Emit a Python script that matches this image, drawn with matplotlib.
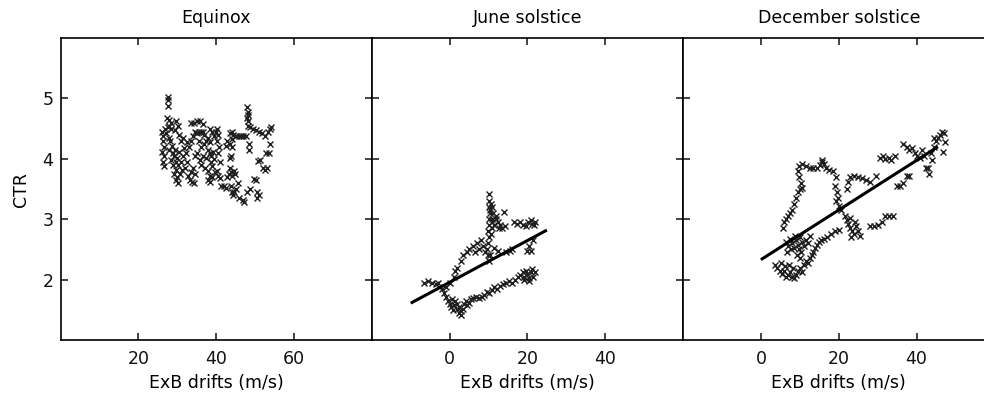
import matplotlib
matplotlib.use("Agg")
import matplotlib.pyplot as plt

plt.rcParams['font.family'] = ['DejaVu Sans']

# Equinox (ExB drift m/s, CTR)
eq_x = [26.2, 26.4, 26.3, 26.5, 26.2, 26.6, 26.3, 26.5, 26.8, 27.0,
        27.6, 27.7, 27.6, 27.3, 27.8, 28.3, 28.0, 27.5, 28.5,
        27.8, 28.2, 28.6, 28.0, 28.8, 29.2, 29.5, 28.5, 29.0, 29.6, 30.0, 30.2, 29.8, 29.2, 29.6, 30.3,
        30.0, 30.8, 31.2, 31.0, 31.5, 30.5, 31.8, 32.2, 32.5, 32.0, 32.8, 33.2, 33.8, 34.2, 33.5, 34.0, 34.5,
        29.5, 30.2, 29.8, 30.5, 31.0, 31.5, 32.5, 33.0, 33.5, 34.0, 34.5, 35.0, 35.5, 36.0, 36.5, 37.0,
        33.5, 34.2, 35.0, 35.8, 36.5,
        35.5, 36.0, 36.8, 37.5, 38.0, 38.5, 37.8, 38.3, 38.8, 39.2, 39.5, 38.7, 39.0, 37.5, 36.5, 35.8,
        35.0, 34.5, 36.2, 37.2, 38.0, 38.4, 37.8, 38.5, 39.0, 39.6, 40.2, 40.5, 41.0,
        40.2, 40.5, 40.3, 40.8, 40.5, 41.0, 40.0, 39.5, 39.0, 38.5,
        41.2, 42.0, 42.5, 42.8, 43.2, 43.5, 43.8, 44.2, 44.5, 44.8, 43.5, 43.8, 44.0, 43.5, 44.0, 44.3,
        44.0, 43.5, 42.8, 42.5,
        44.0, 44.3, 44.6, 45.0, 43.8, 45.5, 46.0, 46.8, 47.2,
        45.2, 45.8, 46.4, 47.0, 47.6,
        48.0, 48.1, 48.2, 48.0, 48.3, 48.2, 48.8, 49.5, 50.2, 51.0, 51.8, 52.5, 53.2, 53.8, 54.0, 53.9,
        53.5, 52.8,
        48.5, 48.5, 50.8, 51.3, 52.0, 52.5, 53.0, 49.6, 50.2, 48.0, 48.6, 50.6, 50.6, 51.0]
eq_y = [4.45, 4.38, 4.30, 4.20, 4.12, 4.05, 3.95, 3.88, 4.50, 4.42,
        5.03, 4.98, 4.87, 4.68, 4.64, 4.60, 4.55, 4.52, 4.50,
        4.35, 4.30, 4.22, 4.15, 4.10, 4.05, 4.15, 3.98, 3.90, 3.95, 4.02, 3.90, 3.82, 3.75, 3.65, 3.60,
        3.70, 3.75, 3.82, 3.95, 4.05, 4.12, 4.18, 4.10, 3.95, 3.85, 3.72, 3.65, 3.62, 3.60, 3.78, 3.85, 3.75,
        4.48, 4.55, 4.62, 4.40, 4.30, 4.35, 4.28, 4.20, 4.30, 4.38, 4.45, 4.42, 4.45, 4.44, 4.45, 4.40,
        4.60, 4.60, 4.62, 4.63, 4.58,
        4.30, 4.20, 4.25, 4.30, 4.35, 4.28, 4.15, 4.10, 4.05, 4.12, 4.00, 3.95, 3.88, 4.02, 4.05, 3.98,
        4.10, 4.05, 3.90, 3.85, 3.80, 3.72, 3.65, 3.62, 3.70, 3.78, 3.80, 3.72, 3.68,
        4.50, 4.40, 4.30, 4.20, 4.10, 3.95, 4.45, 4.38, 4.45, 4.50,
        3.55, 3.55, 3.52, 3.70, 3.75, 3.85, 3.78, 3.72, 3.80, 3.75, 4.02, 4.05, 4.20, 4.25, 4.33, 4.40,
        4.45, 4.42, 4.30, 4.22,
        3.45, 3.40, 3.45, 3.50, 3.55, 3.60, 3.35, 3.32, 3.28,
        4.38, 4.37, 4.37, 4.38, 4.38,
        4.85, 4.78, 4.72, 4.68, 4.62, 4.55, 4.52, 4.50, 4.48, 4.45, 4.42, 4.38, 4.45, 4.50, 4.53, 4.25,
        4.10, 4.10,
        4.25, 4.15, 3.97, 3.98, 3.85, 3.82, 3.85, 3.67, 3.65, 3.45, 3.50, 3.45, 3.35, 3.40]

# June solstice
jun_x = [-6.5, -5.5, -4.5, -3.5, -2.8, -3.0, -2.0, -1.5, -1.0, -0.5, 0.0, 0.3, 0.8, 1.2, 0.5, 1.5,
         2.0, 1.8, 2.5, 2.8, 3.0, 2.5, 3.5, 3.8, 4.2, 4.5, 5.0, 5.5, 6.0, 6.8, 7.5, 8.2, 8.8, 9.5,
         10.0, 10.8, 11.5, 12.2, 13.0, 13.8, 14.5, 15.2, 16.0, 16.8, 17.5, 18.2, 18.8, 19.2, 19.6,
         20.0, 20.4, 20.8, 21.2, 19.0, 20.5, 21.5, 22.0,
         -1.0, 0.0, 1.0, 1.5, 2.0, 3.0, 3.5, 4.5, 5.0, 6.0, 6.5, 7.0, 7.5, 8.0, 8.5, 9.0, 9.5, 9.8, 10.2,
         9.8, 10.0, 9.9, 10.2, 10.0, 10.3, 10.0, 10.2, 10.1, 10.4, 10.6, 11.0, 11.2, 10.8, 11.0, 11.5,
         11.0, 10.6, 11.8, 12.0, 12.5, 13.0, 12.8, 13.5, 14.0, 14.2,
         16.5, 17.2, 18.0, 18.8, 19.5, 20.2, 20.8, 21.2, 21.8, 22.0, 21.5, 20.5, 19.8, 21.0, 14.5, 15.5,
         16.0, 12.5, 11.5, 10.5]
jun_y = [1.95, 1.98, 1.95, 1.92, 1.88, 1.95, 1.85, 1.78, 1.72, 1.65, 1.60, 1.55, 1.50, 1.58, 1.68, 1.65,
         1.60, 1.52, 1.55, 1.48, 1.42, 1.45, 1.52, 1.60, 1.65, 1.58, 1.62, 1.68, 1.70, 1.72, 1.70, 1.72,
         1.75, 1.80, 1.78, 1.82, 1.88, 1.85, 1.90, 1.92, 1.95, 1.98, 1.95, 2.00, 2.05, 2.08, 2.12, 2.05,
         2.15, 2.10, 2.02, 2.12, 2.18, 2.00, 1.98, 2.05, 2.12,
         1.88, 1.95, 2.05, 2.15, 2.20, 2.30, 2.40, 2.45, 2.50, 2.55, 2.45, 2.60, 2.50, 2.65, 2.55, 2.45,
         2.50, 2.40, 2.30,
         2.60, 2.70, 2.80, 2.90, 3.00, 3.10, 3.20, 3.30, 3.42, 3.15, 3.25, 3.20, 3.10, 3.00, 2.95, 2.90,
         2.85, 2.75, 3.05, 3.00, 2.95, 2.90, 2.85, 2.85, 3.12, 2.88,
         2.95, 2.92, 2.95, 2.90, 2.88, 2.95, 2.98, 2.92, 2.90, 2.95, 2.65, 2.55, 2.48, 2.48, 2.45, 2.48,
         2.50, 2.48, 2.52, 2.40]
jun_fit_x = [-10.0, 25.0]
jun_fit_y = [1.61, 2.82]

# December solstice
dec_x = [3.5, 4.2, 5.0, 5.5, 6.0, 6.5, 7.0, 7.5, 8.0, 8.5, 9.0, 9.5, 10.0, 10.5, 6.2, 7.2, 8.2, 5.2,
         11.0, 11.5, 12.0, 12.5, 13.0, 13.5, 14.0, 14.5, 15.0, 15.5, 16.2, 17.0, 18.0, 19.0, 20.0,
         6.5, 7.0, 7.5, 8.0, 8.5, 9.0, 9.5, 10.0, 10.5, 11.0, 11.5, 12.0, 8.8, 9.8, 10.2, 9.2, 10.0,
         6.8, 7.8, 12.5,
         5.8, 6.0, 6.5, 7.0, 7.5, 8.0, 8.5, 9.0, 9.5, 10.0, 10.5, 10.2, 9.8, 9.5, 9.8, 10.5, 11.5, 12.5,
         13.5, 14.5, 15.2, 15.6, 15.8, 16.2, 16.8, 17.5, 18.5, 19.2, 19.0, 19.5, 19.8, 19.2, 20.0, 20.5,
         21.5, 22.0, 22.5, 23.0, 23.5, 24.0, 24.5, 25.0, 25.5, 23.2, 24.2, 22.8,
         28.0, 29.0, 30.0, 31.0, 32.0, 33.0, 34.0,
         22.0, 22.5, 23.0, 24.0, 25.0, 26.0, 27.0, 28.0, 29.5, 30.5, 31.5, 32.0, 33.0, 33.5, 34.5,
         35.0, 35.8, 36.5, 38.0, 37.5,
         36.5, 37.5, 38.0, 38.8, 39.5, 40.0, 40.8, 41.5, 42.0, 42.5, 43.0, 43.2, 44.0, 44.5, 45.0, 45.5,
         46.0, 46.5, 47.0, 47.2, 46.8, 44.5, 43.8]
dec_y = [2.25, 2.20, 2.15, 2.10, 2.15, 2.05, 2.08, 2.12, 2.05, 2.02, 2.08, 2.15, 2.20, 2.12, 2.22,
         2.25, 2.20, 2.28,
         2.25, 2.30, 2.28, 2.35, 2.40, 2.45, 2.52, 2.58, 2.62, 2.65, 2.68, 2.70, 2.75, 2.80, 2.82,
         2.62, 2.55, 2.68, 2.60, 2.52, 2.65, 2.58, 2.70, 2.62, 2.55, 2.65, 2.60, 2.72, 2.50, 2.45, 2.40,
         2.35, 2.45, 2.50, 2.72,
         2.85, 2.95, 3.00, 3.05, 3.10, 3.15, 3.25, 3.35, 3.45, 3.50, 3.52, 3.60, 3.70, 3.80, 3.88, 3.92,
         3.88, 3.85, 3.85, 3.85, 3.90, 3.95, 3.98, 3.92, 3.85, 3.82, 3.80, 3.70, 3.55, 3.45, 3.35, 3.30,
         3.22, 3.15,
         3.05, 2.98, 2.92, 2.85, 2.80, 2.75, 2.88, 2.80, 2.72, 2.70, 2.95, 3.02,
         2.88, 2.88, 2.90, 2.95, 3.05, 3.05, 3.05,
         3.50, 3.62, 3.70, 3.72, 3.70, 3.68, 3.65, 3.62, 3.72, 4.02, 4.05, 4.00, 4.02, 3.98, 4.05,
         3.55, 3.55, 3.60, 3.72, 3.72,
         4.25, 4.20, 4.15, 4.18, 4.10, 4.05, 4.02, 4.15, 4.05, 3.85, 3.85, 3.75, 3.98, 4.20, 4.30, 4.35,
         4.40, 4.45, 4.42, 4.28, 4.12, 4.35, 4.10]
dec_fit_x = [0.0, 45.5]
dec_fit_y = [2.33, 4.20]

titles = ['Equinox', 'June solstice', 'December solstice']
xlims = [(0, 80), (-20, 60), (-20, 60)]
xticks = [[20, 40, 60], [0, 20, 40], [0, 20, 40]]
yticks = [2, 3, 4, 5]

fig = plt.figure(figsize=(9.84, 3.98), dpi=100)
bottom, height = 58 / 398, 302 / 398
width = 311.3 / 984
lefts = [60.5 / 984 + k * width for k in range(3)]

panels = [(eq_x, eq_y, None, None), (jun_x, jun_y, jun_fit_x, jun_fit_y),
          (dec_x, dec_y, dec_fit_x, dec_fit_y)]

fs = 12.5
for i, (px, py, fx, fy) in enumerate(panels):
    ax = fig.add_axes([lefts[i], bottom, width, height])
    ax.plot(px, py, linestyle='none', marker='x', markersize=4, color='0.12',
            markeredgewidth=1.0)
    if fx is not None:
        ax.plot(fx, fy, color='black', linewidth=2.2, solid_capstyle='butt')
    ax.set_xlim(*xlims[i])
    ax.set_ylim(1, 6)
    ax.set_xticks(xticks[i])
    ax.set_yticks(yticks)
    ax.tick_params(direction='in', top=True, right=True, length=5, width=1.1,
                   labelsize=fs, colors='#111111')
    ax.tick_params(axis='x', pad=7)
    ax.tick_params(axis='y', pad=5)
    if i > 0:
        ax.tick_params(labelleft=False)
    else:
        ax.set_ylabel('CTR', fontsize=fs, labelpad=9)
    for s in ax.spines.values():
        s.set_linewidth(1.2)
    ax.set_title(titles[i], fontsize=fs, pad=10.5)
    ax.set_xlabel('ExB drifts (m/s)', fontsize=fs, labelpad=4.5)

fig.savefig('out.png', dpi=100)
